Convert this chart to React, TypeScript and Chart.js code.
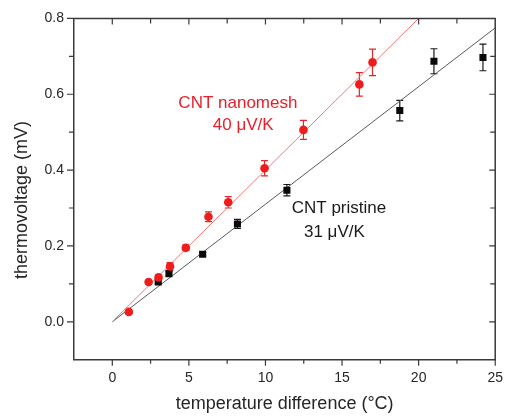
import React, { useEffect, useRef } from 'react';
import { Chart, registerables } from 'chart.js';

Chart.register(...registerables);

// ---- data ----
const nanomeshX = [1.08, 2.37, 3.02, 3.77, 4.8, 6.28, 7.57, 9.94, 12.48, 16.13, 16.99];
const nanomeshY = [0.026, 0.105, 0.117, 0.146, 0.195, 0.277, 0.315, 0.405, 0.506, 0.626, 0.684];
const nanomeshErr = [0.005, 0.005, 0.006, 0.01, 0.007, 0.013, 0.015, 0.02, 0.025, 0.031, 0.035];

const pristineX = [3.0, 3.7, 5.9, 8.17, 11.4, 18.77, 21.0, 24.2];
const pristineY = [0.105, 0.127, 0.178, 0.258, 0.347, 0.557, 0.687, 0.697];
const pristineErr = [0.005, 0.005, 0.005, 0.012, 0.015, 0.027, 0.033, 0.035];

const nanomeshFitX = [0, 20];
const nanomeshFitY = [0, 0.8];
const pristineFitX = [0, 25];
const pristineFitY = [0, 0.775];

const xMin = -2.5;
const xMax = 25;
const xStep = 2.5;
const yMin = -0.1;
const yMax = 0.8;
const yStep = 0.1;

const xTitle = 'temperature difference (°C)';
const yTitle = 'thermovoltage (mV)';

const nanomeshLabel = ['CNT nanomesh', '40 μV/K'];
const nanomeshLabelX = [8.2, 8.55];
const nanomeshLabelY = [0.575, 0.518];
const pristineLabel = ['CNT pristine', '31 μV/K'];
const pristineLabelX = [14.8, 14.5];
const pristineLabelY = [0.299, 0.237];

const FONT = '"Liberation Sans", Arial, Helvetica, sans-serif';
const RED = '#f01c1c';
const AXIS = '#3a3a3a';
const TEXT = '#262626';

const toPts = (xs: number[], ys: number[]) => xs.map((x, i) => ({ x, y: ys[i] }));

export default function App() {
  const ref = useRef<HTMLCanvasElement>(null);

  useEffect(() => {
    const canvas = ref.current!;

    const deco = {
      id: 'deco',
      beforeDatasetsDraw(chart: any) {
        const ctx = chart.ctx;
        const xs = chart.scales.x;
        const ys = chart.scales.y;
        const drawBars = (X: number[], Y: number[], E: number[], color: string) => {
          ctx.save();
          ctx.strokeStyle = color;
          ctx.lineWidth = 1.2;
          X.forEach((x, i) => {
            const px = xs.getPixelForValue(x);
            const top = ys.getPixelForValue(Y[i] + E[i]);
            const bot = ys.getPixelForValue(Y[i] - E[i]);
            ctx.beginPath();
            ctx.moveTo(px, top);
            ctx.lineTo(px, bot);
            ctx.moveTo(px - 3.5, top);
            ctx.lineTo(px + 3.5, top);
            ctx.moveTo(px - 3.5, bot);
            ctx.lineTo(px + 3.5, bot);
            ctx.stroke();
          });
          ctx.restore();
        };
        drawBars(pristineX, pristineY, pristineErr, '#1a1a1a');
        drawBars(nanomeshX, nanomeshY, nanomeshErr, '#e02828');
      },
      afterDraw(chart: any) {
        const ctx = chart.ctx;
        const xs = chart.scales.x;
        const ys = chart.scales.y;
        const a = chart.chartArea;
        ctx.save();
        ctx.strokeStyle = AXIS;
        ctx.lineWidth = 1.5;
        // top & right frame
        ctx.beginPath();
        ctx.moveTo(a.left, a.top);
        ctx.lineTo(a.right, a.top);
        ctx.lineTo(a.right, a.bottom);
        ctx.stroke();
        // ticks
        ctx.lineWidth = 1.2;
        ctx.beginPath();
        xs.ticks.forEach((t: any) => {
          const v = t.value;
          if (v <= xMin + 1e-9 || v >= xMax - 1e-9) {
            if (!(v >= xMax - 1e-9)) return;
          }
          const px = xs.getPixelForValue(v);
          const major = Math.abs(Math.round(v / 5) * 5 - v) < 1e-6;
          const lb = major ? 6 : 4;
          ctx.moveTo(px, a.bottom);
          ctx.lineTo(px, a.bottom + lb);
          if (v < xMax - 1e-9) {
            ctx.moveTo(px, a.top);
            ctx.lineTo(px, a.top + (major ? 6 : 5));
          }
        });
        ys.ticks.forEach((t: any) => {
          const v = t.value;
          if (v <= yMin + 1e-9) return;
          const py = ys.getPixelForValue(v);
          const major = Math.round(v * 10) % 2 === 0;
          const lb = major ? 7 : 5;
          ctx.moveTo(a.left, py);
          ctx.lineTo(a.left - lb, py);
          if (v < yMax - 1e-9) {
            ctx.moveTo(a.right, py);
            ctx.lineTo(a.right - (major ? 6 : 5), py);
          }
        });
        ctx.stroke();

        // axis titles
        ctx.fillStyle = TEXT;
        ctx.font = `18px ${FONT}`;
        ctx.textAlign = 'center';
        ctx.textBaseline = 'middle';
        ctx.fillText(xTitle, (a.left + a.right) / 2, 404);
        ctx.save();
        ctx.translate(22.5, 200);
        ctx.rotate(-Math.PI / 2);
        ctx.fillText(yTitle, 0, 0);
        ctx.restore();

        // annotations
        ctx.font = `17px ${FONT}`;
        ctx.fillStyle = '#e8202a';
        nanomeshLabel.forEach((s, i) => {
          ctx.fillText(s, xs.getPixelForValue(nanomeshLabelX[i]), ys.getPixelForValue(nanomeshLabelY[i]));
        });
        ctx.fillStyle = '#1a1a1a';
        pristineLabel.forEach((s, i) => {
          ctx.fillText(s, xs.getPixelForValue(pristineLabelX[i]), ys.getPixelForValue(pristineLabelY[i]));
        });
        ctx.restore();
      },
    };

    const chart = new Chart(canvas, {
      type: 'scatter',
      data: {
        datasets: [
          {
            type: 'line',
            data: toPts(pristineFitX, pristineFitY),
            borderColor: '#5a5a5a',
            borderWidth: 1,
            pointRadius: 0,
            fill: false,
            order: 4,
          },
          {
            type: 'line',
            data: toPts(nanomeshFitX, nanomeshFitY),
            borderColor: '#f27878',
            borderWidth: 1,
            pointRadius: 0,
            fill: false,
            order: 3,
          },
          {
            data: toPts(pristineX, pristineY),
            pointStyle: 'rect',
            pointRadius: 5,
            backgroundColor: '#0a0a0a',
            borderColor: '#0a0a0a',
            borderWidth: 0,
            order: 2,
          },
          {
            data: toPts(nanomeshX, nanomeshY),
            pointStyle: 'circle',
            pointRadius: 4.3,
            backgroundColor: RED,
            borderColor: RED,
            borderWidth: 0,
            order: 1,
          },
        ],
      } as any,
      options: {
        animation: false,
        responsive: false,
        maintainAspectRatio: false,
        layout: { padding: { top: 17.5, right: 12.3, left: 0, bottom: 0 } },
        plugins: {
          legend: { display: false },
          tooltip: { enabled: false },
        },
        scales: {
          x: {
            type: 'linear',
            min: xMin,
            max: xMax,
            afterFit: (s: any) => {
              s.height = 59.3;
            },
            afterBuildTicks: (s: any) => {
              const arr = [];
              for (let i = 0; xMin + i * xStep <= xMax + 1e-9; i++) arr.push({ value: +(xMin + i * xStep).toFixed(3) });
              s.ticks = arr;
            },
            grid: { drawOnChartArea: false, drawTicks: false },
            border: { display: true, color: AXIS, width: 1.5 },
            ticks: {
              autoSkip: false,
              maxRotation: 0,
              padding: 10,
              color: TEXT,
              font: { family: FONT, size: 14 },
              callback: (v: any) => {
                const n = Number(v);
                return n >= 0 && Math.abs(Math.round(n / 5) * 5 - n) < 1e-6 ? String(Math.round(n)) : '';
              },
            },
          },
          y: {
            type: 'linear',
            min: yMin,
            max: yMax,
            afterFit: (s: any) => {
              s.width = 74;
            },
            afterBuildTicks: (s: any) => {
              const arr = [];
              for (let i = 0; yMin + i * yStep <= yMax + 1e-9; i++) arr.push({ value: +(yMin + i * yStep).toFixed(3) });
              s.ticks = arr;
            },
            grid: { drawOnChartArea: false, drawTicks: false },
            border: { display: true, color: AXIS, width: 1.5 },
            ticks: {
              autoSkip: false,
              padding: 10,
              color: TEXT,
              font: { family: FONT, size: 14 },
              callback: (v: any) => {
                const n = Number(v);
                const k = Math.round(n * 10);
                return n >= -1e-9 && k % 2 === 0 ? (k / 10).toFixed(1) : '';
              },
            },
          },
        },
      },
      plugins: [deco],
    } as any);

    return () => chart.destroy();
  }, []);

  return (
    <div style={{ position: 'fixed', left: 0, top: 0, width: 513, height: 419, background: '#fff' }}>
      <canvas ref={ref} width={513} height={419} style={{ display: 'block', width: 513, height: 419 }} />
    </div>
  );
}
